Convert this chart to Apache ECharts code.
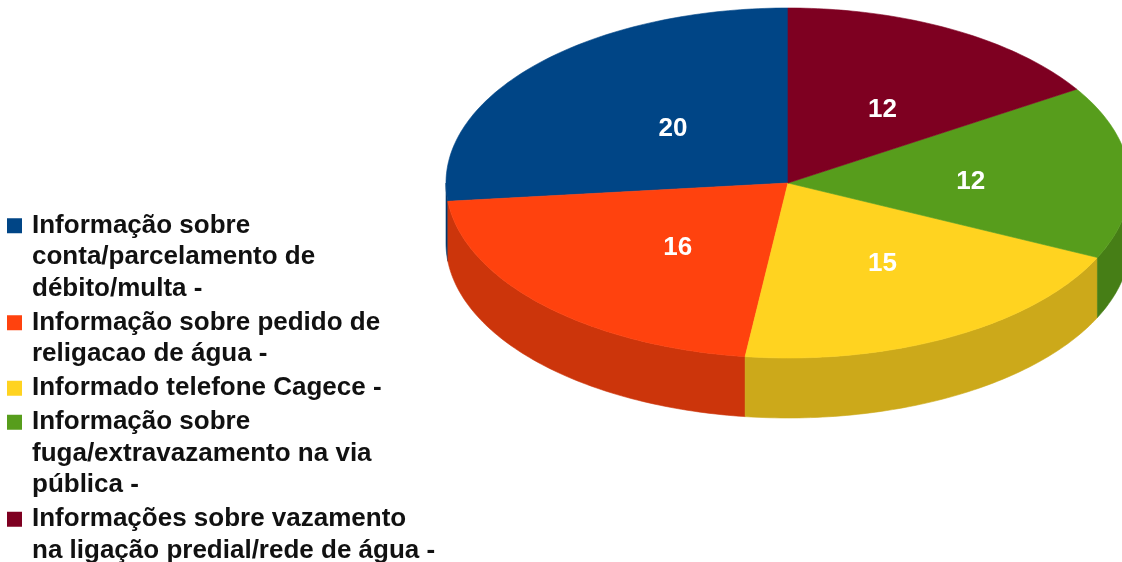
<!DOCTYPE html>
<html>
<head>
<meta charset="utf-8">
<script src="https://cdn.jsdelivr.net/npm/echarts@6/dist/echarts.min.js"></script>
<style>
  html, body { margin: 0; padding: 0; background: #ffffff; }
  #chart { width: 1122px; height: 562px; }
</style>
</head>
<body>
<div id="chart"></div>
<script>
// ---- data ----
const categories = [
  'Informação sobre conta/parcelamento de débito/multa -',
  'Informação sobre pedido de religacao de água -',
  'Informado telefone Cagece -',
  'Informação sobre fuga/extravazamento na via pública -',
  'Informações sobre vazamento na ligação predial/rede de água -'
];
const legendLines = [
  ['Informação sobre', 'conta/parcelamento de', 'débito/multa -'],
  ['Informação sobre pedido de', 'religacao de água -'],
  ['Informado telefone Cagece -'],
  ['Informação sobre', 'fuga/extravazamento na via', 'pública -'],
  ['Informações sobre vazamento', 'na ligação predial/rede de água -']
];
const values = [20, 16, 15, 12, 12];

// ---- styles ----
const colors = ['#004586', '#ff420e', '#ffd320', '#579d1c', '#7e0021'];
const wallColors = ['#00376b', '#cc350b', '#cca91a', '#467e16', '#65001a'];

// ---- pie layout ----
const CX = 788, CY = 183, RX = 342, RY = 175, DEPTH = 60, START = 90;
const total = values.reduce((a, b) => a + b, 0);
const starts = [];
(function () { let acc = 0; values.forEach(v => { starts.push(START + acc / total * 360); acc += v; }); })();

function pt(deg, dy) {
  const r = deg * Math.PI / 180;
  return [CX + RX * Math.cos(r), CY - RY * Math.sin(r) + (dy || 0)];
}
function arc(a, b, dy) {
  const pts = [];
  const n = Math.max(2, Math.ceil(Math.abs(b - a)));
  for (let i = 0; i <= n; i++) pts.push(pt(a + (b - a) * i / n, dy));
  return pts;
}

function makeRender(i) {
  return function (params, api) {
    const v = api.value(0);
    const a = starts[i];
    const b = a + v / total * 360;
    const children = [];
    for (let k = -1; k <= 1; k++) {
      const lo = Math.max(a, 180 + 360 * k), hi = Math.min(b, 360 + 360 * k);
      if (hi > lo) {
        const pts = arc(lo, hi, 0).concat(arc(hi, lo, DEPTH));
        children.push({ type: 'polygon', shape: { points: pts },
          style: { fill: wallColors[i], stroke: wallColors[i], lineWidth: 0.6 } });
      }
    }
    children.push({ type: 'polygon', shape: { points: [[CX, CY]].concat(arc(a, b, 0)) },
      style: { fill: colors[i], stroke: colors[i], lineWidth: 0.6 } });
    const m = (a + b) / 2 * Math.PI / 180;
    children.push({ type: 'text', z2: 100,
      x: CX + 12 + 0.5 * RX * Math.cos(m),
      y: CY + 4 - 0.5 * RY * Math.sin(m),
      style: { text: String(v), fill: '#ffffff', fontSize: 26, fontWeight: 'bold',
        fontFamily: '"Liberation Sans", Arial, sans-serif', align: 'center', verticalAlign: 'middle' } });
    return { type: 'group', children: children };
  };
}

const rich = {
  gap: { width: 10, height: 15, lineHeight: 31.5 },
  ind: { width: 25, height: 15, lineHeight: 31.5 },
  t: { fontSize: 26, fontWeight: 'bold', fontFamily: '"Liberation Sans", Arial, sans-serif', color: '#111111', lineHeight: 31.5 }
};
colors.forEach((c, i) => { rich['sq' + i] = { width: 15, height: 15, backgroundColor: c, lineHeight: 31.5 }; });

const chart = echarts.init(document.getElementById('chart'), null, { renderer: 'canvas' });
chart.setOption({
  animation: false,
  backgroundColor: '#ffffff',
  legend: {
    orient: 'vertical',
    left: 2,
    top: 210,
    padding: 0,
    itemGap: 2.5,
    itemWidth: 0,
    itemHeight: 14,
    icon: 'none',
    selectedMode: false,
    data: categories,
    formatter: function (name) {
      const i = categories.indexOf(name);
      return legendLines[i].map((l, j) => (j === 0 ? '{sq' + i + '|}{gap|}' : '{ind|}') + '{t|' + l + '}').join('\n');
    },
    textStyle: { fontSize: 26, fontWeight: 'bold', fontFamily: '"Liberation Sans", Arial, sans-serif', color: '#111111', lineHeight: 31.5, rich: rich }
  },
  series: categories.map((name, i) => ({
    type: 'custom',
    name: name,
    coordinateSystem: 'none',
    itemStyle: { color: colors[i] },
    renderItem: makeRender(i),
    data: [[values[i]]]
  }))
});
</script>
</body>
</html>
